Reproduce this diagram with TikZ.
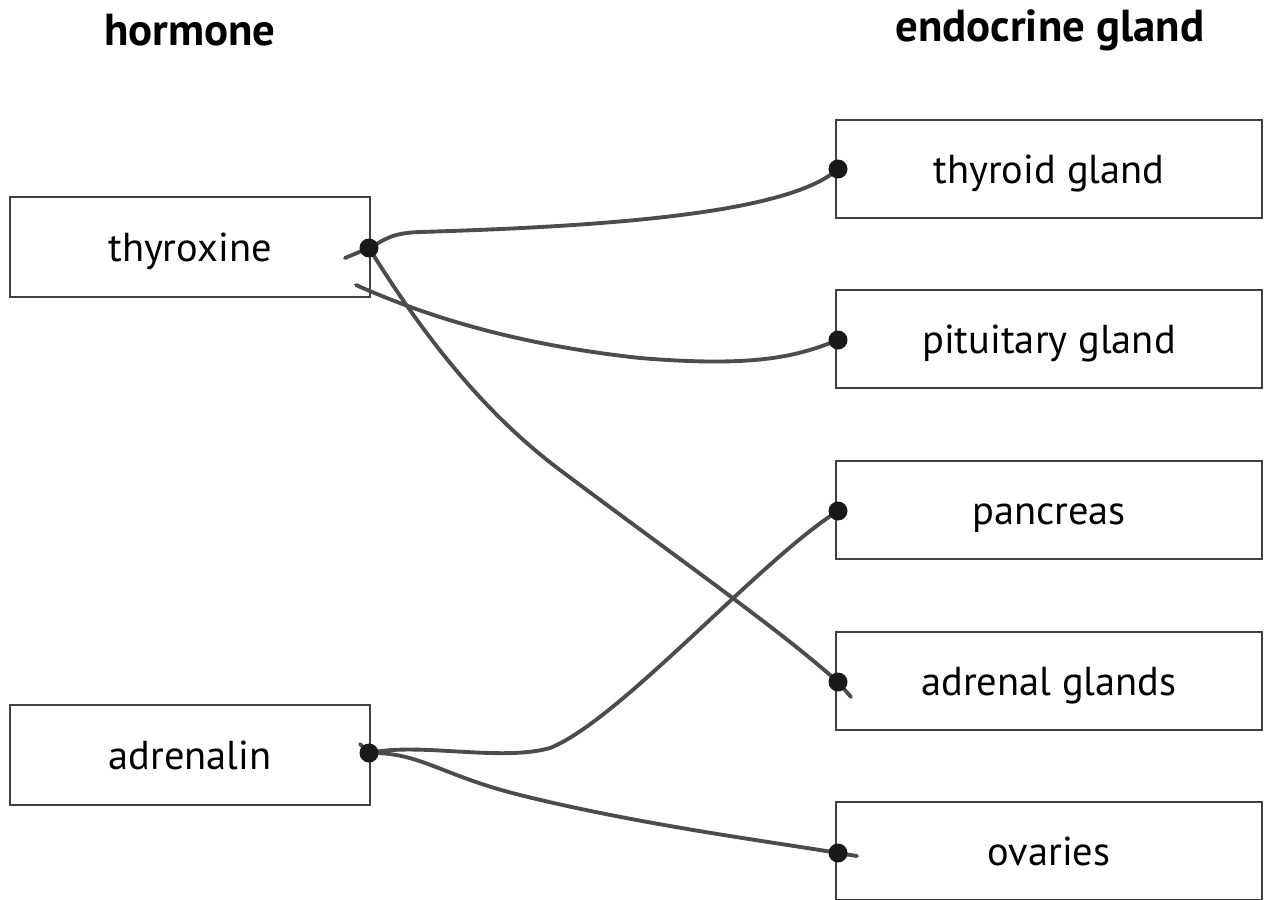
\documentclass[tikz,border=0pt]{standalone}
\usepackage{fontspec}
\setmainfont{PT Sans}
\usepackage{tikz}
\tikzset{box/.style = {draw = black!75, line width = 1.6pt, rectangle,
                       minimum width = 7.2cm, minimum height = 2cm,
                       text height = 0.74cm, text depth = 0.16cm,
                       font = \fontsize{23}{27}\selectfont}}
\tikzset{gland/.style = {box, minimum width = 8.52cm, minimum height = 1.96cm}}
\tikzset{head/.style = {font = \fontsize{25.5}{30}\selectfont\bfseries}}
\tikzset{dot/.style = {fill = black!90, circle, inner sep = 0, minimum size = 0.38cm}}
\tikzset{wire/.style = {draw = black!70, line width = 2.2pt, line cap = round}}
\begin{document}
\begin{tikzpicture}[x=0.02cm, y=-0.02cm]
      \useasboundingbox (0, 0) rectangle (1264, 899);
      \node [head] (hormone) at (190, 30) {hormone};
      \node [head] (endocrine) at (1050, 30) {endocrine gland};

      \node [box] (thyroxine) at (190, 247) {thyroxine};
      \node [box] (adrenalin) at (190, 755) {adrenalin};
      \node [gland] (thyroid) at (1049, 169) {thyroid gland};
      \node [gland] (pituitary) at (1049, 339) {pituitary gland};
      \node [gland] (pancreas) at (1049, 510) {pancreas};
      \node [gland] (adrenal) at (1049, 681) {adrenal glands};
      \node [gland] (ovaries) at (1049, 851) {ovaries};

      \coordinate (t) at (369, 248);
      \coordinate (a) at (369, 753);
      \coordinate (g1) at (838, 169);
      \coordinate (g2) at (838, 340);
      \coordinate (g3) at (838, 511);
      \coordinate (g4) at (838, 682);
      \coordinate (g5) at (838, 853);
      \coordinate (tailt) at (345, 258);
      \coordinate (tailp) at (356, 285);
      \coordinate (tailr) at (851, 697);
      \coordinate (taila) at (360, 744);
      \coordinate (tailo) at (857, 856);

      \draw [wire] (tailt) -- (t) .. controls (385, 240) and (390, 233) .. (420, 232)
            .. controls (620, 226) and (790, 212) .. (g1);
      \draw [wire] (tailp) .. controls (430, 318) and (520, 345) .. (640, 358)
            .. controls (760, 368) and (800, 355) .. (g2);
      \draw [wire] (t) .. controls (420, 330) and (480, 410) .. (560, 470)
            .. controls (680, 560) and (780, 630) .. (g4) -- (tailr);
      \draw [wire] (taila) -- (a) .. controls (420, 742) and (500, 762) .. (550, 748)
            .. controls (620, 720) and (760, 560) .. (g3);
      \draw [wire] (a) .. controls (420, 752) and (440, 775) .. (520, 795)
            .. controls (640, 825) and (780, 843) .. (g5) -- (tailo);

      \node at (t) [dot] {};
      \node at (a) [dot] {};
      \node at (g1) [dot] {};
      \node at (g2) [dot] {};
      \node at (g3) [dot] {};
      \node at (g4) [dot] {};
      \node at (g5) [dot] {};
\end{tikzpicture}
\end{document}
